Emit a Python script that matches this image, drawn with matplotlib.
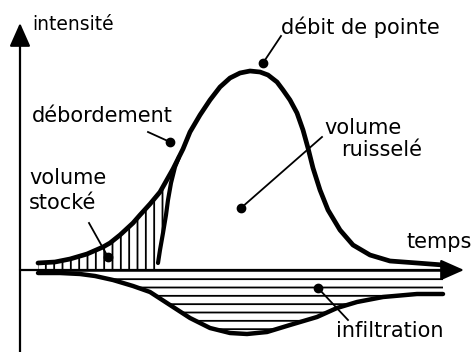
import matplotlib
matplotlib.use("Agg")
import matplotlib.pyplot as plt
import numpy as np

t_total = [38, 55, 70, 87, 103, 110, 120, 133, 140, 150, 160, 173, 183, 190, 200,
           210, 220, 230, 240, 250, 260, 268, 277, 283, 290, 297, 303, 308, 313,
           320, 328, 340, 353, 370, 390, 417, 443]
q_total = [7, 8, 11, 16, 23, 27, 35, 47, 55, 66, 78, 101, 121, 138, 155,
           170, 183, 192, 197, 199, 198, 195, 188, 180, 170, 157, 140, 122, 102,
           80, 60, 40, 25, 15, 9, 7, 5]

# Début du ruissellement (courbe intérieure)
t_ruis = [158, 160, 163, 166, 168, 171, 175, 179]
q_ruis = [7, 20, 37, 55, 70, 87, 103, 113]

# Infiltration (sous l'axe des temps)
t_inf = [38, 60, 80, 95, 113, 133, 150, 170, 190, 210, 230, 247, 267, 290,
         317, 337, 357, 383, 417, 443]
q_inf = [-3, -3, -4, -6, -10, -16, -22, -35, -48, -58, -63, -64, -62, -55,
         -47, -38, -32, -27, -24, -24]

# Points repérés (annotations)
pt_pointe = (263, 207)
pt_debord = (170, 128)
pt_stocke = (108, 13)
pt_ruisselle = (241, 62)
pt_infil = (318, -18)

plt.rcParams['hatch.linewidth'] = 1.3
fig = plt.figure(figsize=(4.74, 3.52), dpi=100)
ax = fig.add_axes([0, 0, 1, 1])
ax.set_xlim(0, 474)
ax.set_ylim(-82, 270)
ax.axis('off')

tt = np.array(t_total)
qt = np.array(q_total)

# volume stocké : hachures verticales
mask = tt <= 173
poly_t = list(tt[mask]) + [t_ruis[-1]] + t_ruis[::-1] + [t_ruis[0], t_total[0]]
poly_q = list(qt[mask]) + [q_ruis[-1]] + q_ruis[::-1] + [0, 0]
ax.fill(poly_t, poly_q, facecolor='none', edgecolor='black', hatch='||', linewidth=0)

# infiltration : hachures horizontales
ax.fill_between(t_inf, q_inf, 0, facecolor='none', edgecolor='black', hatch='--', linewidth=0)

# axes avec flèches
ax.annotate('', xy=(464, 0), xytext=(20, 0),
            arrowprops=dict(arrowstyle='-|>,head_length=0.9,head_width=0.4', mutation_scale=16,
                            lw=1.6, color='black', shrinkA=0, shrinkB=0))
ax.annotate('', xy=(20, 247), xytext=(20, -82),
            arrowprops=dict(arrowstyle='-|>,head_length=0.9,head_width=0.4', mutation_scale=16,
                            lw=1.6, color='black', shrinkA=0, shrinkB=0))

# courbes
ax.plot(t_total, q_total, color='black', lw=3.4, solid_capstyle='round', solid_joinstyle='round')
ax.plot(t_ruis, q_ruis, color='black', lw=3.0, solid_capstyle='round', solid_joinstyle='round')
ax.plot(t_inf, q_inf, color='black', lw=3.2, solid_capstyle='round', solid_joinstyle='round')

# points et traits de rappel
def leader(p, q):
    ax.plot([p[0], q[0]], [p[1], q[1]], color='black', lw=1.3)
    ax.plot([p[0]], [p[1]], 'o', color='black', markersize=6)

leader(pt_pointe, (281, 234))
leader(pt_debord, (148, 138))
leader(pt_stocke, (89, 47))
leader(pt_ruisselle, (322, 133))
leader(pt_infil, (348, -50))

fs = 15
ax.text(32, 245, 'intensité', fontsize=13.5, ha='left', va='center')
ax.text(281, 243, 'débit de pointe', fontsize=fs, ha='left', va='center')
ax.text(32, 154, 'débordement', fontsize=fs, ha='left', va='center')
ax.text(29, 92, 'volume', fontsize=fs, ha='left', va='center')
ax.text(29, 67, 'stocké', fontsize=fs, ha='left', va='center')
ax.text(324, 142, 'volume', fontsize=fs, ha='left', va='center')
ax.text(341, 120, 'ruisselé', fontsize=fs, ha='left', va='center')
ax.text(407, 28, 'temps', fontsize=fs, ha='left', va='center')
ax.text(336, -61, 'infiltration', fontsize=fs, ha='left', va='center')

fig.savefig('out.png', dpi=100)
